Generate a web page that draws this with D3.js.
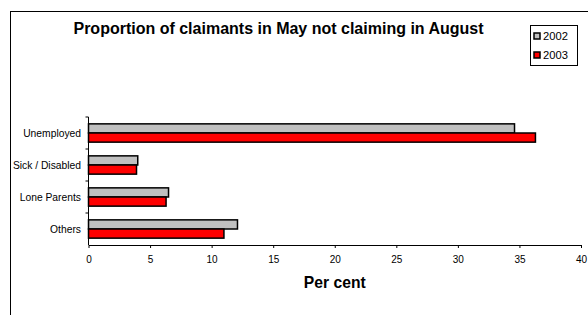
<!DOCTYPE html>
<html>
<head>
<meta charset="utf-8">
<script src="https://cdn.jsdelivr.net/npm/d3@7"></script>
<style>
  body { margin: 0; background: #fff; }
  text { font-family: Arial, "Liberation Sans", sans-serif; fill: #000; }
</style>
</head>
<body>
<div id="chart"></div>
<script>
// chart data
var categories = ["Unemployed", "Sick / Disabled", "Lone Parents", "Others"];
var years = ["2002", "2003"];
var values2002 = [34.6, 4.0, 6.5, 12.1];
var values2003 = [36.3, 3.9, 6.3, 11.0];
var xTicks = [0, 5, 10, 15, 20, 25, 30, 35, 40];
var colors = {"2002": "#c0c0c0", "2003": "#ff0000"};

var width = 588, height = 315;
var margin = {top: 117, left: 88.5, right: 7, bottom: 70};

var svg = d3.select("#chart").append("svg")
    .attr("width", width)
    .attr("height", height);

// outer frame (runs off right and bottom edges)
svg.append("rect")
    .attr("x", 10.5).attr("y", 11.5)
    .attr("width", 600).attr("height", 400)
    .attr("fill", "none")
    .attr("stroke", "#000");

var x = d3.scaleLinear()
    .domain([0, 40])
    .range([margin.left, width - margin.right]);

var y = d3.scaleBand()
    .domain(categories)
    .range([margin.top, height - margin.bottom]);

var sub = d3.scaleBand()
    .domain(years)
    .range([0, y.bandwidth()])
    .paddingOuter(0.75)
    .paddingInner(0);

var rows = categories.map(function(c, i){
    return {cat: c, vals: [{year: "2002", v: values2002[i]}, {year: "2003", v: values2003[i]}]};
});

var groups = svg.append("g").selectAll("g")
    .data(rows)
    .enter().append("g")
    .attr("transform", function(d){ return "translate(0," + y(d.cat) + ")"; });

groups.selectAll("rect")
    .data(function(d){ return d.vals; })
    .enter().append("rect")
    .attr("x", x(0))
    .attr("y", function(d){ return sub(d.year); })
    .attr("width", function(d){ return x(d.v) - x(0); })
    .attr("height", sub.bandwidth())
    .attr("fill", function(d){ return colors[d.year]; })
    .attr("stroke", "#000")
    .attr("stroke-width", 1.5);

// x axis
var xAxis = svg.append("g")
    .attr("transform", "translate(0," + (height - margin.bottom) + ")")
    .call(d3.axisBottom(x).tickValues(xTicks).tickSize(3).tickSizeOuter(0).tickPadding(8));
xAxis.select(".domain").attr("stroke", "#000");
xAxis.selectAll("text").style("font-size", "10px");

// y axis: ticks between categories
var yAxis = svg.append("g")
    .attr("transform", "translate(" + x(0) + ",0)");
yAxis.append("line")
    .attr("x1", 0).attr("x2", 0)
    .attr("y1", margin.top).attr("y2", height - margin.bottom)
    .attr("stroke", "#000");
yAxis.selectAll(".tk")
    .data(categories)
    .enter().append("line")
    .attr("class", "tk")
    .attr("x1", -3).attr("x2", 0)
    .attr("y1", function(d){ return y(d); })
    .attr("y2", function(d){ return y(d); })
    .attr("stroke", "#000");
yAxis.selectAll(".lbl")
    .data(categories)
    .enter().append("text")
    .attr("class", "lbl")
    .attr("x", -7.5)
    .attr("y", function(d){ return y(d) + y.bandwidth() / 2; })
    .attr("dy", "0.35em")
    .attr("text-anchor", "end")
    .style("font-size", "10.3px")
    .text(function(d){ return d; });

// title
svg.append("text")
    .attr("x", 278.5)
    .attr("y", 34)
    .attr("text-anchor", "middle")
    .style("font-size", "16px")
    .style("font-weight", "bold")
    .text("Proportion of claimants in May not claiming in August");

// axis title
svg.append("text")
    .attr("x", x(20))
    .attr("y", 288)
    .attr("text-anchor", "middle")
    .style("font-size", "15.7px")
    .style("font-weight", "bold")
    .text("Per cent");

// legend
var legend = svg.append("g").attr("transform", "translate(530.5,25.5)");
legend.append("rect")
    .attr("width", 47).attr("height", 40)
    .attr("fill", "#fff")
    .attr("stroke", "#000");
var items = legend.selectAll(".item")
    .data(years)
    .enter().append("g")
    .attr("class", "item")
    .attr("transform", function(d, i){ return "translate(3.5," + (10.5 + i * 19) + ")"; });
items.append("rect")
    .attr("x", 0).attr("y", -3)
    .attr("width", 6).attr("height", 6)
    .attr("fill", function(d){ return colors[d]; })
    .attr("stroke", "#000")
    .attr("stroke-width", 1.5);
items.append("text")
    .attr("x", 9)
    .attr("y", 0)
    .attr("dy", "0.35em")
    .style("font-size", "11.2px")
    .text(function(d){ return d; });
</script>
</body>
</html>
